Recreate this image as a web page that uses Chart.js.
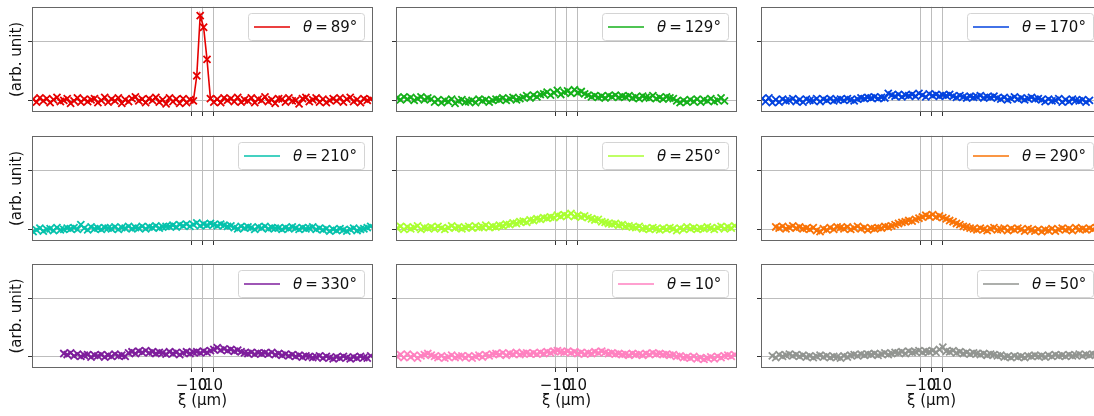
<!DOCTYPE html>
<html>
<head>
<meta charset="utf-8">
<script src="https://cdn.jsdelivr.net/npm/chart.js@4.4.1/dist/chart.umd.min.js"></script>
<style>
    html, body { margin: 0; padding: 0; background: #fff; width: 1094px; height: 416px; overflow: hidden; }
    .panel { position: absolute; }
</style>
</head>
<body>
<script>
// --- Data (y in arbitrary units, upper tick = 100) ---
const angles = [89, 129, 170, 210, 250, 290, 330, 10, 50];
const colors = ['#e50000', '#15b01a', '#0343df', '#06c2ac', '#aaff32', '#f97306', '#7e1e9c', '#ff81c0', '#929591'];

const XSTEP = 3.1;   // sample spacing along xi (µm)
const xFirst = [-154, -154, -154, -154, -154, -141.6, -126.1, -154, -144.7];

const xTickValues = [-10, 0, 10];
const yTickValues = [0, 100];

const y89 = [2, -3, 4, -1, 3, -4, 1, 5, -2, 0,
    3, -5, -1, 4, -3, 2, -2, 1, 3, -4,
    0, 5, -3, 2, -1, 4, -5, 1, -2, 3,
    6, -1, 2, -4, 3, 0, 5, -3, 1, -6,
    4, -2, 2, -5, 3, -4, 1, -1,
    42, 145, 125, 70, 3,
    -3, 2, -4, 4, 0, 3, -2,
    5, -3, 1, -1, 4, -4, 2, 0, 6, -2,
    1, -5, 3, 2, -3, 4, -1, 0, -6, 3,
    5, -2, 1, 4, -3, 2, -4, 0, 3, -1,
    4, -3, 2, 5, -2, 1, -4, 3, 0, 2];

const y129 = [4, 1, 6, 2, 5, 0, 3, 6, 1, 4, 2,
    -3, 1, -4, 0, -2, 2, -5, -1, 1, -3, -2, 0, -4, 2, -1, 1, -3, 0, 2,
    1, 4, 0, 3, 5, 1, 3,
    5, 8, 4, 9, 6, 10,
    11, 14, 9, 13, 17, 10, 14,
    16, 12, 18, 13, 15, 11,
    9, 6, 8, 5, 7, 4, 8, 6, 9, 5, 7, 6, 8,
    4, 6, 3, 7, 5, 4, 8, 3, 5, 2, 6, 4, 3,
    -1, -4, 0, -3, 1, -2,
    2, -3, 1, -1, 3, -2, 0, 4, -1];

const y170 = [3, -2, 4, -4, 1, -3, 2, -1, 0, 3, -2, 1, -3, 2, 0, -1, 3, -2,
    2, 0, 3, -1, 1, 2, 0, 3, 1, -1, 2, 4,
    3, 5, 4, 6, 3, 5, 4,
    12, 9, 7, 10, 6, 9,
    8, 10, 7, 12, 9, 6, 11, 8, 10, 7, 9, 8, 10,
    7, 5, 8, 6, 4, 7, 5, 6, 8, 4, 6, 5, 7,
    4, 2, 5, 1, 3, 6, 2, 4, 1, 3, 5, 2, 3,
    1, -2, 2, -1, 0, 3, -3, 1, -2, 2, 0, -1, 1, -3, 0];

const y210 = [-4, -1, 2, -3, 0, 1, -2, 3, -1, 0, 2,
    1, 3, 0, 8, 2, -1, 4, 1, 2, 0, 3, 2, 1, 4, 0, 3, 2, 5, 1,
    3, 2, 5, 1, 4, 3, 6, 2, 4, 5,
    5, 7, 4, 8, 6, 9, 5,
    8, 11, 6, 9, 7, 10, 8, 6, 9,
    7, 5, 6,
    3, 1, 5, 2, 4, 3, 0, 4, 2, 5, 1, 3, 2,
    2, 0, 3, 1, 4, 2, 0, 3, 1, 2, 4, 0, 2,
    -1, 1, -3, 0, -2, 1, -1, -3, 0, 2, -2, 0, 1,
    3, 5];

const y250 = [2, 5, 0, 4, 1, 3, 6, 0, 3, 2,
    4, 1, 5, 2, 0, 3, 6, 2, 4, 1,
    3, 5, 2, 6, 3, 4, 7, 3, 5,
    4, 7, 6, 9, 8, 11, 10, 13,
    14, 12, 16, 15, 18, 17, 20,
    19, 21, 20, 24, 22, 25,
    23, 27, 22, 24, 21, 23,
    20, 18, 16, 17, 13, 12, 10,
    9, 10, 7, 8, 5, 6,
    4, 3, 5, 1, 2, 0, 3,
    1, -1, 2, 0, 3, 1, -2, 2, 0, 4, 1, 3, 0, 2,
    1, 4, 2, 0, 3, 5, 1, 4, 2, 6];

const y290 = [4, 2, 5, 1, 3, 6, 2, 4, 1,
    2, 0, 3, -2, -4, 1, -1, 3, 0, 4,
    3, 1, 4, 0, 2, 5, 1, 3, -1, 2,
    1, 3, 2, 5, 4,
    6, 8, 10, 12,
    13, 15, 14, 17, 19,
    21, 24, 22, 25, 21, 23,
    20, 18, 15, 13, 10,
    8, 5, 4, 2,
    1, -1, 2, 0, -2, 1, 3, -1, 0, 2, -2, 1, -1, 2, 0, -3, 1, -1,
    -3, 0, -4, -1, -2, 1, -3,
    0, 2, -1, 1, -2, 3, 0, 1, -1, 2, 0, 3, 2];

const y330 = [5, 3, 6, 1, 4, 0, 2, 3, -1, 2,
    1, 3, -1, 2, 0, 4, 1, 2, 0,
    6, 8, 5, 9, 7, 10, 6, 8, 5, 7,
    6, 4, 8, 5, 7, 3, 6, 8, 5, 7,
    8, 6, 9, 7, 10,
    12, 15, 11, 13, 10, 12, 9, 11,
    8, 6, 5, 7, 4, 6, 5,
    6, 4, 7, 3, 5, 2, 4,
    1, 3, 0, 2, -1, 1, 0, -2,
    -1, 1, -3, 0, -2, -4, -1, -3, 0, -2,
    -4, -1, -3, 0, -2, -3, 1];

const y10 = [0, 3, -2, 4, -1, 2, -3, 1, 3, 5,
    2, 0, -2, 1, -3, -1, 2, -2, 0, 1,
    -2, 1, -3, 0, 2, -1, 3, 1, 4, 5,
    3, 6, 2, 5, 4, 7, 3, 5, 6, 4,
    6, 4, 7, 5, 8, 6, 9, 10, 8, 7,
    9, 6, 8, 5, 7, 4, 6, 5, 8, 6,
    9, 7, 5, 6, 4, 5, 3, 4, 2, 5,
    3, 4, 2, 5, 3, 6, 4, 5, 3, 4,
    2, 3, 0, 1, -2, -1, -3, 0, -4, -2,
    -5, -3, -1, -4, 0, -2, 1, 2, 0, 3];

const y50 = [1, -2, 3, 0, 2, 4, 1,
    3, 0, 2, -1, 1, -2, 0, 2, -1, 1,
    -2, 0, -1, -3, 1, -1, 2, 3, 1, 4,
    2, 4, 3, 5, 2, 4, 6, 3, 5, 7,
    6, 8, 5, 9, 7, 8, 10, 7, 9, 8,
    10, 7, 12, 16, 9, 8, 10, 6, 8, 5,
    7, 4, 6, 5, 3, 5, 2, 4, 3, 1,
    2, -1, 0, -2, 1, -1, 0, -2, 1, 0,
    2, 0, 1, -1, 2, 0, 3, 1, 2, 0,
    3, 1, 2, 4, 1, 3, 2, 4, 3, 2];

const series = [y89, y129, y170, y210, y250, y290, y330, y10, y50];

// --- Layout of the 3x3 grid (chart-area edges in page pixels) ---
const colLeft = [32, 396, 761];
const rowTop = [4, 133, 261];
const AREA_W = 341;
const Y_AXIS_W = 32;
const PAD_RIGHT = 10;

Chart.defaults.font.family = '"DejaVu Sans", sans-serif';
Chart.defaults.font.size = 15;
Chart.defaults.color = '#111';

const gridColor = '#bdbdbd';

// frame around each axes (all four sides)
const framePlugin = {
    id: 'frame',
    afterDatasetsDraw(chart) {
        const { ctx, chartArea: a } = chart;
        ctx.save();
        ctx.strokeStyle = '#666';
        ctx.lineWidth = 1;
        ctx.strokeRect(Math.round(a.left) + 0.5, Math.round(a.top) + 0.5,
            Math.round(a.right - a.left) - 1, Math.round(a.bottom - a.top) - 1);
        ctx.restore();
    }
};

// matplotlib-like legend box in the upper right corner
const legendPlugin = {
    id: 'legendBox',
    afterDatasetsDraw(chart) {
        const ds = chart.data.datasets[0];
        const { ctx, chartArea: a } = chart;
        const [sym, rest] = ds.label.split(' = ');
        ctx.save();
        ctx.font = 'italic 15px "DejaVu Sans"';
        const wSym = ctx.measureText(sym).width;
        ctx.font = '15px "DejaVu Sans"';
        const wEq = ctx.measureText('=').width;
        const wRest = ctx.measureText(rest).width;
        const gap = 3;
        const textW = wSym + gap + wEq + gap + wRest;
        const boxW = Math.round(6 + 36 + 13 + textW + 7);
        const boxH = 27;
        const x0 = Math.round(a.right - 9 - boxW);
        const y0 = Math.round(a.top + 6);

        ctx.beginPath();
        ctx.roundRect(x0 + 0.5, y0 + 0.5, boxW, boxH, 3);
        ctx.fillStyle = 'rgba(255,255,255,0.8)';
        ctx.fill();
        ctx.strokeStyle = '#d4d4d4';
        ctx.lineWidth = 1;
        ctx.stroke();

        const cy = y0 + boxH / 2 + 0.5;
        ctx.strokeStyle = ds.borderColor;
        ctx.lineWidth = 1.6;
        ctx.beginPath();
        ctx.moveTo(x0 + 6, cy);
        ctx.lineTo(x0 + 42, cy);
        ctx.stroke();

        ctx.fillStyle = '#111';
        ctx.textBaseline = 'middle';
        let tx = x0 + 55;
        ctx.font = 'italic 15px "DejaVu Sans"';
        ctx.fillText(sym, tx, cy + 1);
        tx += wSym + gap;
        ctx.font = '15px "DejaVu Sans"';
        ctx.fillText('=', tx, cy + 1);
        tx += wEq + gap;
        ctx.fillText(rest, tx, cy + 1);
        ctx.restore();
    }
};

function toPoints(values, x0) {
    return values.map((v, i) => ({ x: x0 + i * XSTEP, y: v }));
}

function tickLabel(v) {
    return v < 0 ? '\u2212' + Math.abs(v) : String(v);
}

angles.forEach((angle, k) => {
    const r = Math.floor(k / 3);
    const c = k % 3;
    const bottomRow = r === 2;
    const xAxisH = bottomRow ? 48 : 12;
    const canvasTop = rowTop[r] - 4;
    const canvasH = bottomRow ? 416 - canvasTop : 4 + 108 + xAxisH;
    const canvasW = Y_AXIS_W + AREA_W + PAD_RIGHT;

    const div = document.createElement('div');
    div.className = 'panel';
    div.style.left = (colLeft[c] - Y_AXIS_W) + 'px';
    div.style.top = canvasTop + 'px';
    const canvas = document.createElement('canvas');
    canvas.width = canvasW;
    canvas.height = canvasH;
    canvas.style.width = canvasW + 'px';
    canvas.style.height = canvasH + 'px';
    div.appendChild(canvas);
    document.body.appendChild(div);

    new Chart(canvas.getContext('2d'), {
        type: 'line',
        data: {
            datasets: [{
                label: '\u03b8 = ' + angle + '\u00b0',
                data: toPoints(series[k], xFirst[k]),
                borderColor: colors[k],
                backgroundColor: colors[k],
                borderWidth: 1.6,
                pointStyle: 'crossRot',
                pointRadius: 5,
                pointBorderWidth: 1.8,
                pointBorderColor: colors[k],
                tension: 0,
                fill: false
            }]
        },
        options: {
            responsive: false,
            animation: false,
            devicePixelRatio: 1,
            layout: { padding: { top: 4, right: PAD_RIGHT, left: 0, bottom: 0 } },
            plugins: {
                legend: { display: false },
                tooltip: { enabled: false }
            },
            scales: {
                x: {
                    type: 'linear',
                    min: -155,
                    max: 155,
                    afterBuildTicks: s => { s.ticks = xTickValues.map(v => ({ value: v })); },
                    afterFit: s => { s.height = xAxisH; },
                    border: { display: false },
                    grid: { color: gridColor, lineWidth: 1, drawTicks: true, tickLength: 4, tickColor: '#333' },
                    ticks: {
                        display: bottomRow,
                        autoSkip: false,
                        maxRotation: 0,
                        padding: 5,
                        color: '#111',
                        callback: v => tickLabel(v)
                    },
                    title: {
                        display: bottomRow,
                        text: '\u03be (\u00b5m)',
                        color: '#111',
                        padding: { top: 0, bottom: 6 }
                    }
                },
                y: {
                    type: 'linear',
                    min: -20,
                    max: 160,
                    afterBuildTicks: s => { s.ticks = yTickValues.map(v => ({ value: v })); },
                    afterFit: s => { s.width = Y_AXIS_W; },
                    border: { display: false },
                    grid: { color: gridColor, lineWidth: 1, drawTicks: true, tickLength: 4, tickColor: '#333' },
                    ticks: { display: false },
                    title: {
                        display: c === 0,
                        text: '(arb. unit)',
                        color: '#111',
                        padding: { top: 8, bottom: 0 }
                    }
                }
            }
        },
        plugins: [framePlugin, legendPlugin]
    });
});
</script>
</body>
</html>
